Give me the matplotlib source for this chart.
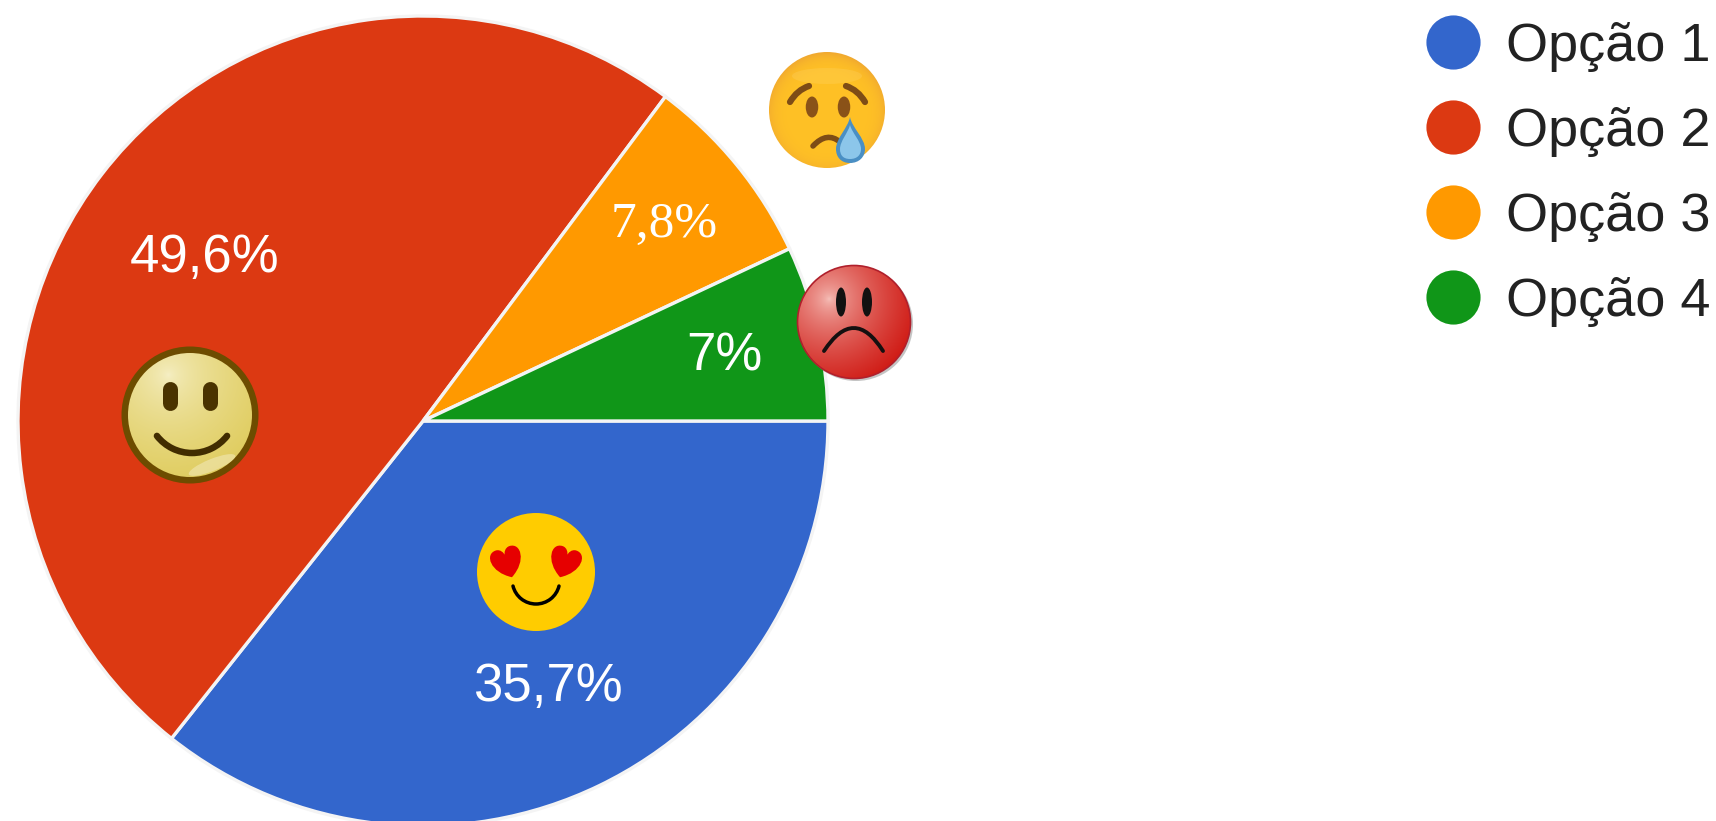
import numpy as np
import matplotlib
matplotlib.use("Agg")
import matplotlib.pyplot as plt
from matplotlib.colors import to_rgb
from matplotlib.lines import Line2D
from matplotlib.patches import Arc, Circle, PathPatch, Ellipse
from matplotlib.path import Path

# Dados
labels = ["Opção 1", "Opção 2", "Opção 3", "Opção 4"]
values = [35.7, 49.6, 7.8, 7.0]
pct_text = ["35,7%", "49,6%", "7,8%", "7%"]
colors = ["#3366cc", "#dc3912", "#ff9900", "#109618"]

W, H = 1716, 821

fig = plt.figure(figsize=(W / 100, H / 100), dpi=100)
ax = fig.add_axes([0, 0, 1, 1])

# eixo em pixels, y para baixo: counterclock=True fica horario na tela
ax.pie(values, colors=colors, center=(423, 421), radius=405, startangle=0,
       counterclock=True, frame=True,
       wedgeprops={"edgecolor": "#f4f4f4", "linewidth": 2.4})


def curve(pts, color, lw, z=6):
    codes = [Path.MOVETO, Path.CURVE3, Path.CURVE3]
    ax.add_patch(PathPatch(Path(pts, codes), fc="none", ec=color, lw=lw,
                           capstyle="round", zorder=z))


def blob4(pts, color, z=6):
    # forma fechada feita de curvas cubicas
    codes = [Path.MOVETO] + [Path.CURVE4] * (len(pts) - 1)
    ax.add_patch(PathPatch(Path(pts, codes), fc=color, ec="none", zorder=z))


def smile(cx, cy, r, half, color, lw):
    # arco de circulo, half = meio angulo em graus
    ax.add_patch(Arc((cx, cy), 2 * r, 2 * r, theta1=90 - half, theta2=90 + half, color=color,
                     lw=lw, capstyle="round", zorder=6))


def shaded(cx, cy, r, c_in, c_out, fx=0.0, fy=0.0, power=1.6, z=5):
    # disco com gradiente radial
    yy, xx = np.mgrid[-1:1:200j, -1:1:200j]
    d = np.clip(np.hypot(xx - fx, yy - fy) / (1 + np.hypot(fx, fy)), 0, 1)[..., None]
    a = np.array(to_rgb(c_in))
    b = np.array(to_rgb(c_out))
    im = ax.imshow(a + (b - a) * d ** power, extent=(cx - r, cx + r, cy + r, cy - r),
                   interpolation="bilinear", zorder=z)
    c = Circle((cx, cy), r, transform=ax.transData, fc="none", ec="none")
    ax.add_patch(c)
    im.set_clip_path(c)


def heart(cx, cy, s, angle):
    pts = np.array([(0, 1), (-1.2, 0.3), (-1.2, -0.9), (-0.45, -0.9), (-0.15, -0.9), (0, -0.6),
                    (0, -0.45), (0, -0.6), (0.15, -0.9), (0.45, -0.9), (1.2, -0.9), (1.2, 0.3),
                    (0, 1)])
    a = np.radians(angle)
    x = pts[:, 0] * np.cos(a) - pts[:, 1] * np.sin(a)
    y = pts[:, 0] * np.sin(a) + pts[:, 1] * np.cos(a)
    blob4(np.column_stack([cx + x * s, cy + y * s]), "#e60000")


# carinha feliz (fatia vermelha)
ax.add_patch(Circle((190, 415), 68.5, fc="#6d4c00", ec="none", zorder=4))
shaded(190, 415, 62, "#f6f0c8", "#e0cd60", -0.35, -0.65, power=0.6)
ax.add_patch(Ellipse((212, 465), 50, 12, angle=-22, fc="#f7f0d0", ec="none", alpha=0.45, zorder=5))
for ex in (170, 210):
    ax.plot([ex, ex], [389, 403], color="#4a3300", lw=10.8, solid_capstyle="round", zorder=6)
smile(192, 408.5, 44.5, 52, "#412c00", 4.7)

# carinha com coracoes (fatia azul)
ax.add_patch(Circle((536, 572), 59, fc="#ffcc00", ec="none", zorder=5))
heart(507, 562, 16, -18)
heart(565, 562, 16, 18)
smile(536, 580.3, 23.7, 76, "black", 2.5)

# carinha chorando
shaded(827, 110, 58, "#ffc125", "#f0a830", 0, 0.05, power=8)
ax.add_patch(Ellipse((827, 76), 70, 16, fc="#ffe9a8", ec="none", alpha=0.15, zorder=5))
for ex in (812, 844):
    ax.add_patch(Ellipse((ex, 107), 12.5, 21, fc="#8a5218", ec="none", zorder=6))
curve([(790, 102), (797, 90), (809, 86)], "#7e4c16", 4.5)
curve([(846, 86), (858, 90), (865, 102)], "#7e4c16", 4.5)
curve([(813, 146), (827, 131), (840, 142)], "#7e4c16", 4.0)
blob4([(850, 117), (852, 128), (865, 138), (865, 149), (865, 157), (859, 163), (850, 163),
       (841, 163), (836, 157), (836, 149), (836, 138), (848, 128), (850, 117)], "#4a8fc4", z=7)
blob4([(850, 125), (852, 133), (861, 141), (861, 149), (861, 155), (857, 159), (850, 159),
       (843, 159), (840, 155), (840, 149), (840, 141), (848, 133), (850, 125)], "#8cc6ea", z=8)

# carinha brava
ax.add_patch(Circle((856, 324), 57, fc="#8a8a8a", ec="none", alpha=0.5, zorder=4))
shaded(854, 322, 56.5, "#f7c6bf", "#d01c16", -0.45, -0.4, power=0.6)
ax.add_patch(Circle((854, 322), 56.5, fc="none", ec="#b0202c", lw=1.2, zorder=5))
for ex in (841, 867):
    ax.add_patch(Ellipse((ex, 302), 10, 29, fc="#111111", ec="none", zorder=6))
curve([(824, 351), (854, 305), (883, 351)], "#151010", 2.8)

# porcentagens
ax.text(548, 687, pct_text[0], color="white", fontsize=38, family="Liberation Sans",
        ha="center", va="center", zorder=7)
ax.text(205, 258, pct_text[1], color="white", fontsize=38, family="Liberation Sans",
        ha="center", va="center", zorder=7)
ax.text(664, 225, pct_text[2], color="white", fontsize=37, family="Liberation Serif",
        ha="center", va="center", zorder=7)
ax.text(724, 356, pct_text[3], color="white", fontsize=38, family="Liberation Sans",
        ha="center", va="center", zorder=7)

handles = [Line2D([], [], ls="none", marker="o", ms=39, mfc=c, mec="none") for c in colors]
leg = ax.legend(handles, labels, loc="upper left", bbox_to_anchor=(1426 / W, 1 - 22 / H),
                bbox_transform=fig.transFigure, frameon=False, borderpad=0, borderaxespad=0,
                prop={"family": "Liberation Sans", "size": 39}, labelcolor="#222222",
                labelspacing=0.646, handlelength=1.0, handletextpad=0.47, handleheight=0.7)

ax.set_xlim(0, W)
ax.set_ylim(H, 0)
ax.set_aspect("equal")
ax.axis("off")

fig.savefig("out.png", dpi=100)
